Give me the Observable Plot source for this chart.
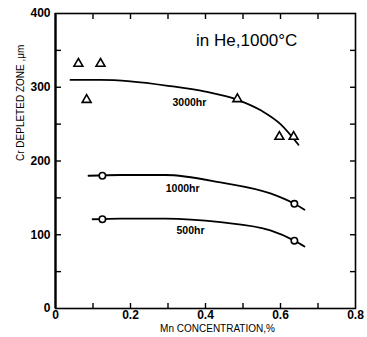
<!DOCTYPE html>
<html>
<head>
<meta charset="utf-8">
<script src="https://cdn.jsdelivr.net/npm/d3@7"></script>
<script src="https://cdn.jsdelivr.net/npm/@observablehq/plot@0.6"></script>
<style>
  html, body { margin: 0; padding: 0; background: #fff; }
  #chart { width: 367px; height: 337px; }
</style>
</head>
<body>
<div id="chart"></div>
<script>
// ---- data ----
const triangleX = [0.061, 0.12, 0.083, 0.485, 0.597, 0.635];
const triangleY = [332, 332, 283, 284, 233, 233];

const circleX = [0.125, 0.637, 0.125, 0.637];
const circleY = [180, 142, 121, 92];

const curve3000X = [0.04, 0.12, 0.2, 0.3, 0.4, 0.485, 0.55, 0.6, 0.648];
const curve3000Y = [310, 310, 308, 302, 294, 283, 268, 250, 222];

const curve1000X = [0.088, 0.173, 0.293, 0.44, 0.573, 0.637, 0.664];
const curve1000Y = [180, 181, 181, 171, 156, 142, 134];

const curve500X = [0.099, 0.173, 0.293, 0.44, 0.573, 0.637, 0.664];
const curve500Y = [121, 122, 122, 117, 106, 92, 84];

const curveLabels = ["3000hr", "1000hr", "500hr"];
const curveLabelX = [0.357, 0.339, 0.36];
const curveLabelY = [279, 163, 106];

const title = "in He,1000°C";
const titleX = 0.51;
const titleY = 363;

const xTickLabels = [0, 0.2, 0.4, 0.6, 0.8];
const xMinorTicks = [0.1, 0.2, 0.3, 0.4, 0.5, 0.6, 0.7];
const yTickLabels = [0, 100, 200, 300, 400];
const yMinorTicks = [50, 100, 150, 200, 250, 300, 350];

const xLabel = "Mn CONCENTRATION,%";
const yLabel = "Cr DEPLETED ZONE ,μm";

// ---- build ----
const zip = (xs, ys) => xs.map((x, i) => ({x, y: ys[i]}));
const triangles = zip(triangleX, triangleY);
const circles = zip(circleX, circleY);
const curves = [
  zip(curve3000X, curve3000Y),
  zip(curve1000X, curve1000Y),
  zip(curve500X, curve500Y)
];
const labels = curveLabels.map((t, i) => ({t, x: curveLabelX[i], y: curveLabelY[i]}));
const blank = () => "";

const chart = Plot.plot({
  width: 367,
  height: 337,
  marginLeft: 55,
  marginRight: 12,
  marginTop: 13,
  marginBottom: 29,
  style: {fontFamily: "Liberation Sans, Arial, sans-serif", background: "#fff", color: "#000"},
  x: {domain: [0, 0.8]},
  y: {domain: [0, 400]},
  marks: [
    Plot.frame({stroke: "#000", strokeWidth: 1.6}),
    Plot.ruleX([0], {stroke: "#000", strokeWidth: 2.2}),
    // inward minor ticks
    Plot.axisX(xMinorTicks, {anchor: "bottom", tickSize: -5, tickFormat: blank, label: null, strokeWidth: 1.4}),
    Plot.axisX(xMinorTicks, {anchor: "top", tickSize: -5, tickFormat: blank, label: null, strokeWidth: 1.4}),
    Plot.axisY(yMinorTicks, {anchor: "left", tickSize: -6, tickFormat: blank, label: null, strokeWidth: 1.4}),
    Plot.axisY(yMinorTicks, {anchor: "right", tickSize: -6, tickFormat: blank, label: null, strokeWidth: 1.4}),
    // tick labels
    Plot.axisX(xTickLabels, {anchor: "bottom", tickSize: 0, tickPadding: 2, label: null,
      tickFormat: d => String(d), fontSize: 12, fontWeight: "bold"}),
    Plot.axisY(yTickLabels, {anchor: "left", tickSize: 0, tickPadding: 5, label: null,
      tickFormat: d => String(d), fontSize: 12, fontWeight: "bold"}),
    // axis titles
    Plot.text([xLabel], {frameAnchor: "bottom", dy: 23, dx: 12, fontSize: 10, text: d => d}),
    Plot.text([yLabel], {frameAnchor: "left", dx: -35, rotate: -90, fontSize: 10, text: d => d}),
    // curves
    ...curves.map(c => Plot.line(c, {x: "x", y: "y", curve: "monotone-x", stroke: "#000", strokeWidth: 1.8})),
    // markers
    Plot.dot(triangles, {x: "x", y: "y", symbol: "triangle", r: 3.3, stroke: "#000", strokeWidth: 1.6, fill: "#fff"}),
    Plot.dot(circles, {x: "x", y: "y", symbol: "circle", r: 3.2, stroke: "#000", strokeWidth: 1.6, fill: "#fff"}),
    // labels
    Plot.text(labels, {x: "x", y: "y", text: "t", fontSize: 10.5, fontWeight: "bold"}),
    Plot.text([title], {x: () => titleX, y: () => titleY, text: d => d, fontSize: 17})
  ]
});
document.getElementById("chart").appendChild(chart);
</script>
</body>
</html>
